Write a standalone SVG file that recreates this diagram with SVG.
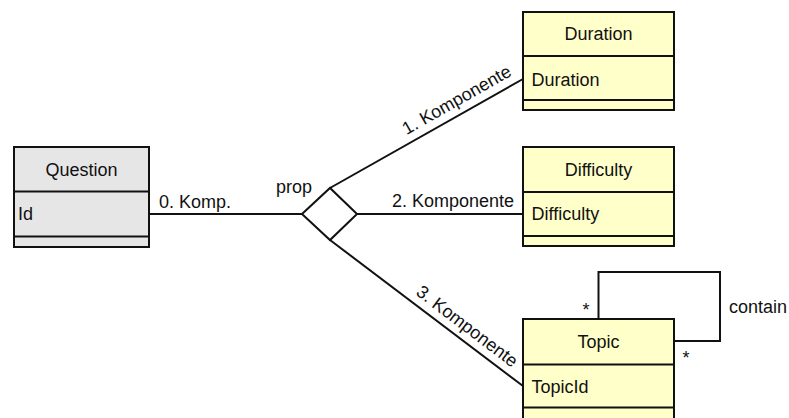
<svg xmlns="http://www.w3.org/2000/svg" width="789" height="418" viewBox="0 0 789 418">
  <style>
    text { font-family: "Liberation Sans", Arial, sans-serif; font-size: 18px; fill: #111; }
    .mid { text-anchor: middle; }
    .box { stroke: #111; stroke-width: 2; }
    .gray { fill: #e6e6e6; }
    .yellow { fill: #ffffca; }
    .sep { stroke: #111; stroke-width: 2; }
    .conn { stroke: #111; stroke-width: 2; fill: none; }
  </style>

  <!-- associations -->
  <g id="connectors">
    <line class="conn" x1="150" y1="214" x2="302" y2="214"/>
    <line class="conn" x1="330" y1="188" x2="523" y2="79"/>
    <line class="conn" x1="357" y1="214" x2="523" y2="214"/>
    <line class="conn" x1="330" y1="240" x2="523" y2="386"/>
    <path class="conn" d="M598.5,319 V272 H720 V341 H675"/>
    <text x="159" y="207.5">0. Komp.</text>
    <text class="mid" transform="translate(459.6,105.1) rotate(-29.6)">1. Komponente</text>
    <text x="392" y="207">2. Komponente</text>
    <text class="mid" transform="translate(463.5,331) rotate(37.25)">3. Komponente</text>
    <text class="mid" x="586" y="316">*</text>
    <text class="mid" x="686" y="364">*</text>
    <text x="729" y="312.5">contain</text>
  </g>

  <!-- n-ary association diamond -->
  <g id="prop">
    <polygon class="box" fill="#ffffff" points="302,214 330,188 357,214 330,240"/>
    <text x="276" y="193">prop</text>
  </g>

  <g id="question">
    <rect class="box gray" x="14" y="147" width="135" height="100"/>
    <line class="sep" x1="14" y1="191.5" x2="149" y2="191.5"/>
    <line class="sep" x1="14" y1="236.5" x2="149" y2="236.5"/>
    <text class="mid" x="81.5" y="176">Question</text>
    <text x="18" y="220">Id</text>
  </g>

  <g id="duration">
    <rect class="box yellow" x="523" y="12" width="151" height="98"/>
    <line class="sep" x1="523" y1="56" x2="674" y2="56"/>
    <line class="sep" x1="523" y1="100" x2="674" y2="100"/>
    <text class="mid" x="598.5" y="39.5">Duration</text>
    <text x="531.5" y="86">Duration</text>
  </g>

  <g id="difficulty">
    <rect class="box yellow" x="523" y="147" width="151" height="99"/>
    <line class="sep" x1="523" y1="192" x2="674" y2="192"/>
    <line class="sep" x1="523" y1="236" x2="674" y2="236"/>
    <text class="mid" x="598.5" y="176">Difficulty</text>
    <text x="531.5" y="220">Difficulty</text>
  </g>

  <g id="topic">
    <rect class="box yellow" x="523" y="319" width="151" height="100"/>
    <line class="sep" x1="523" y1="364.5" x2="674" y2="364.5"/>
    <line class="sep" x1="523" y1="407.5" x2="674" y2="407.5"/>
    <text class="mid" x="598.5" y="348">Topic</text>
    <text x="531.5" y="393">TopicId</text>
  </g>
</svg>
